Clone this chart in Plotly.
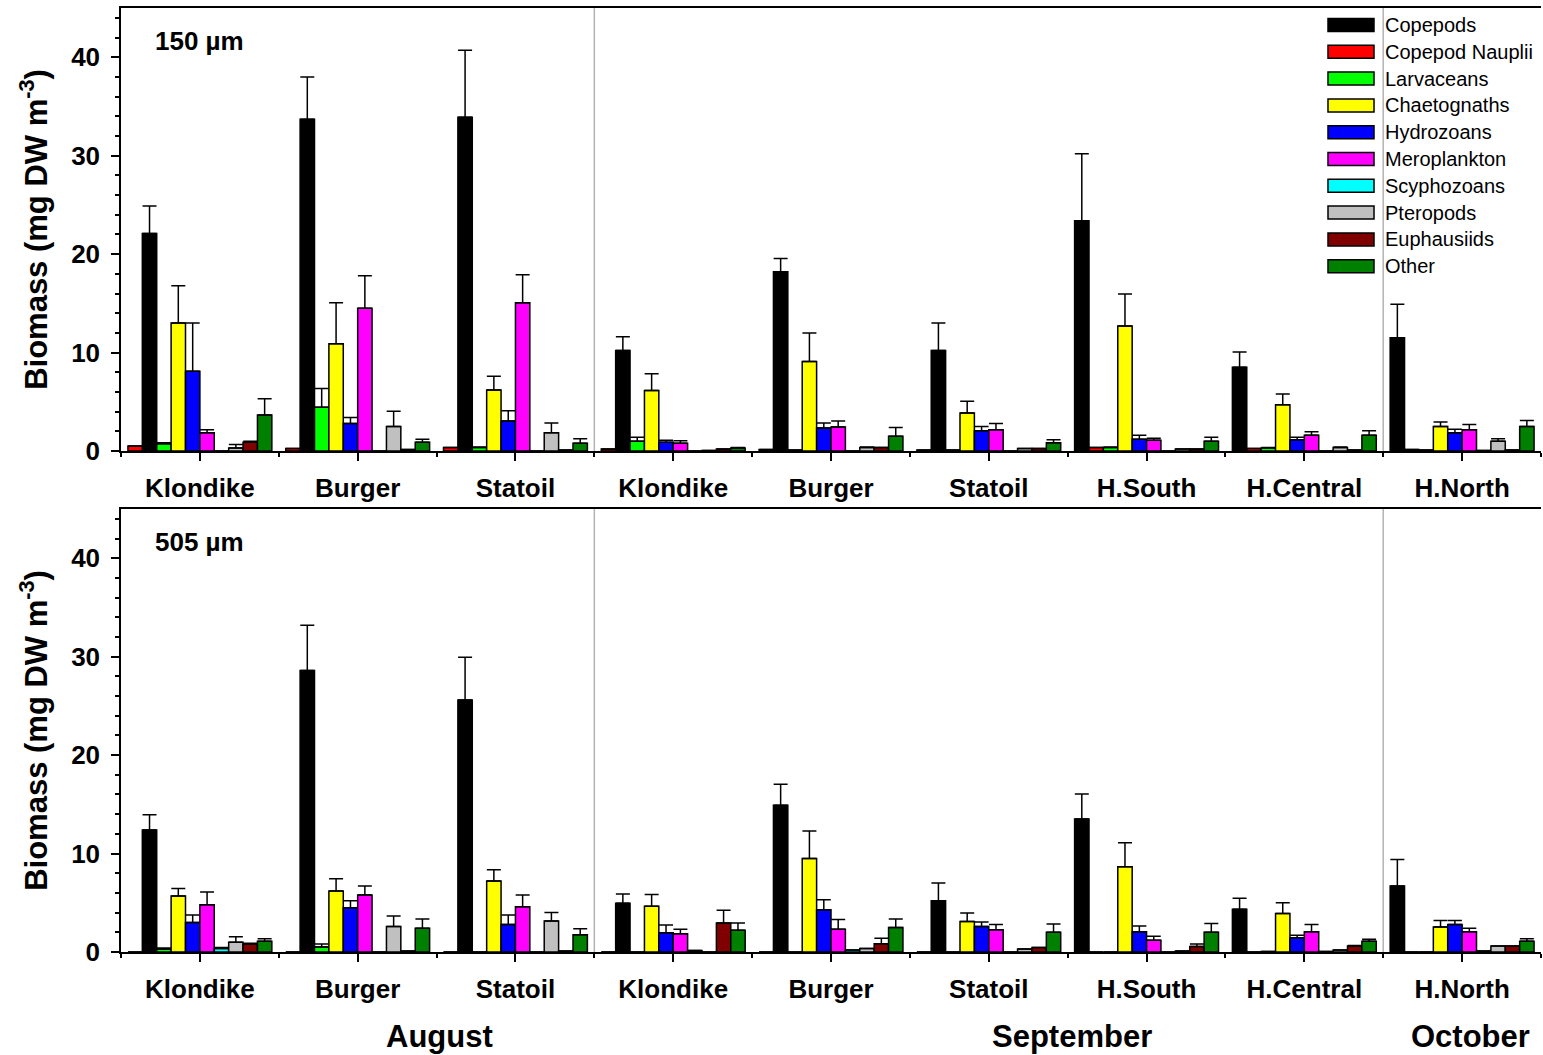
import plotly.graph_objects as go

# Sampling sites (three August cruises, five September, one October)
sites = ["Klondike", "Burger", "Statoil", "Klondike", "Burger", "Statoil",
         "H.South", "H.Central", "H.North"]
months = ["August", "September", "October"]
month_pos = [1.52, 5.53, 8.05]

taxa = ["Copepods", "Copepod Nauplii", "Larvaceans", "Chaetognaths", "Hydrozoans",
        "Meroplankton", "Scyphozoans", "Pteropods", "Euphausiids", "Other"]
colors = ["#000000", "#FF0000", "#00FF00", "#FFFF00", "#0000FF",
          "#FF00FF", "#00FFFF", "#C0C0C0", "#800000", "#008000"]

# ---- 150 µm net: mean biomass (mg DW m-3) and standard error ----
copepods_150 = [22.1, 33.7, 33.9, 10.2, 18.2, 10.2, 23.4, 8.5, 11.5]
copepods_150_se = [2.8, 4.3, 6.8, 1.4, 1.35, 2.8, 6.8, 1.55, 3.4]
nauplii_150 = [0.5, 0.25, 0.35, 0.2, 0.15, 0.1, 0.35, 0.25, 0.15]
nauplii_150_se = [0, 0, 0, 0, 0, 0, 0, 0, 0]
larvaceans_150 = [0.75, 4.45, 0.35, 1.0, 0.1, 0.1, 0.35, 0.3, 0.1]
larvaceans_150_se = [0.1, 1.9, 0.05, 0.4, 0, 0, 0.05, 0.05, 0]
chaetognaths_150 = [13.0, 10.9, 6.2, 6.15, 9.1, 3.85, 12.7, 4.7, 2.5]
chaetognaths_150_se = [3.8, 4.15, 1.4, 1.7, 2.9, 1.2, 3.25, 1.1, 0.45]
hydrozoans_150 = [8.1, 2.8, 3.05, 0.9, 2.35, 2.05, 1.2, 1.15, 1.85]
hydrozoans_150_se = [4.9, 0.6, 1.05, 0.2, 0.5, 0.45, 0.4, 0.25, 0.35]
meroplankton_150 = [1.85, 14.5, 15.05, 0.8, 2.45, 2.15, 1.1, 1.6, 2.15]
meroplankton_150_se = [0.3, 3.3, 2.85, 0.25, 0.6, 0.65, 0.2, 0.35, 0.55]
scyphozoans_150 = [0, 0, 0, 0, 0, 0, 0, 0, 0.05]
scyphozoans_150_se = [0, 0, 0, 0, 0, 0, 0, 0, 0]
pteropods_150 = [0.3, 2.5, 1.85, 0.05, 0.35, 0.25, 0.2, 0.35, 1.0]
pteropods_150_se = [0.35, 1.55, 1.0, 0, 0.05, 0, 0, 0.05, 0.25]
euphausiids_150 = [0.9, 0.15, 0.1, 0.2, 0.35, 0.25, 0.2, 0.1, 0.1]
euphausiids_150_se = [0.1, 0, 0, 0, 0, 0, 0, 0, 0]
other_150 = [3.65, 0.9, 0.8, 0.3, 1.5, 0.85, 1.0, 1.6, 2.5]
other_150_se = [1.65, 0.3, 0.45, 0.05, 0.9, 0.3, 0.4, 0.45, 0.6]

# ---- 505 µm net ----
copepods_505 = [12.4, 28.6, 25.6, 4.95, 14.9, 5.2, 13.5, 4.35, 6.7]
copepods_505_se = [1.55, 4.6, 4.35, 0.95, 2.15, 1.8, 2.55, 1.1, 2.7]
nauplii_505 = [0, 0, 0, 0, 0, 0, 0, 0, 0]
nauplii_505_se = [0, 0, 0, 0, 0, 0, 0, 0, 0]
larvaceans_505 = [0.3, 0.5, 0, 0, 0, 0, 0, 0.05, 0]
larvaceans_505_se = [0.1, 0.3, 0, 0, 0, 0, 0, 0, 0]
chaetognaths_505 = [5.7, 6.2, 7.2, 4.65, 9.5, 3.1, 8.65, 3.9, 2.55]
chaetognaths_505_se = [0.75, 1.25, 1.15, 1.2, 2.8, 0.85, 2.45, 1.1, 0.65]
hydrozoans_505 = [3.0, 4.5, 2.8, 1.95, 4.3, 2.6, 2.05, 1.45, 2.8]
hydrozoans_505_se = [0.75, 0.7, 0.95, 0.8, 1.0, 0.45, 0.6, 0.25, 0.4]
meroplankton_505 = [4.8, 5.8, 4.6, 1.85, 2.3, 2.25, 1.2, 2.05, 2.05]
meroplankton_505_se = [1.3, 0.9, 1.2, 0.45, 1.0, 0.55, 0.4, 0.75, 0.35]
scyphozoans_505 = [0.35, 0, 0, 0.15, 0.2, 0, 0, 0.05, 0.1]
scyphozoans_505_se = [0.1, 0, 0, 0, 0, 0, 0, 0, 0]
pteropods_505 = [1.0, 2.6, 3.15, 0, 0.35, 0.3, 0.1, 0.2, 0.6]
pteropods_505_se = [0.55, 1.05, 0.85, 0, 0, 0, 0, 0, 0]
euphausiids_505 = [0.8, 0.1, 0.1, 2.95, 0.85, 0.45, 0.55, 0.6, 0.6]
euphausiids_505_se = [0.1, 0, 0, 1.3, 0.55, 0, 0.25, 0.05, 0]
other_505 = [1.1, 2.4, 1.75, 2.2, 2.5, 2.0, 2.0, 1.1, 1.1]
other_505_se = [0.25, 0.95, 0.6, 0.75, 0.85, 0.85, 0.9, 0.2, 0.25]

panel_150 = [(copepods_150, copepods_150_se), (nauplii_150, nauplii_150_se),
             (larvaceans_150, larvaceans_150_se), (chaetognaths_150, chaetognaths_150_se),
             (hydrozoans_150, hydrozoans_150_se), (meroplankton_150, meroplankton_150_se),
             (scyphozoans_150, scyphozoans_150_se), (pteropods_150, pteropods_150_se),
             (euphausiids_150, euphausiids_150_se), (other_150, other_150_se)]
panel_505 = [(copepods_505, copepods_505_se), (nauplii_505, nauplii_505_se),
             (larvaceans_505, larvaceans_505_se), (chaetognaths_505, chaetognaths_505_se),
             (hydrozoans_505, hydrozoans_505_se), (meroplankton_505, meroplankton_505_se),
             (scyphozoans_505, scyphozoans_505_se), (pteropods_505, pteropods_505_se),
             (euphausiids_505, euphausiids_505_se), (other_505, other_505_se)]

# Bar slot inside each site cluster; copepods and nauplii trade places
# in the last three clusters.
n_sites = len(sites)
slot_of = {name: [i] * n_sites for i, name in enumerate(taxa)}
slot_of["Copepods"] = [1] * 6 + [0] * 3
slot_of["Copepod Nauplii"] = [0] * 6 + [1] * 3

BAR_W = 0.0912
START = -BAR_W * 5

FONT = "Liberation Sans, Arial, sans-serif"
xs = list(range(n_sites))

fig = go.Figure()
for panel, (xa, ya) in ((panel_150, ("x", "y")), (panel_505, ("x2", "y2"))):
    for name, color, (vals, se) in zip(taxa, colors, panel):
        fig.add_trace(go.Bar(
            x=xs, y=vals, name=name, xaxis=xa, yaxis=ya,
            width=[BAR_W] * n_sites,
            offset=[START + BAR_W * s for s in slot_of[name]],
            marker=dict(color=color, line=dict(color="black", width=1.5)),
            error_y=dict(type="data", symmetric=False, array=se,
                         arrayminus=[0] * n_sites, color="black",
                         thickness=1.5, width=7),
            showlegend=False,
        ))

xaxis_common = dict(
    range=[-0.5, n_sites - 0.5], tickmode="array", tickvals=xs,
    ticktext=[f"<b>{s}</b>" for s in sites],
    tickfont=dict(family=FONT, size=26, color="black"),
    showline=True, linecolor="black", linewidth=1.5, mirror=True,
    ticks="outside", ticklen=8, tickwidth=1.5, tickcolor="black",
    minor=dict(tick0=0.5, dtick=1, ticks="outside", ticklen=4,
               tickwidth=1.5, tickcolor="black"),
    showgrid=False, zeroline=False, ticklabelstandoff=5,
)
yaxis_common = dict(
    range=[0, 45], tickmode="linear", tick0=0, dtick=10,
    tickfont=dict(family=FONT, size=26, color="black", weight="bold"),
    showline=True, linecolor="black", linewidth=1.5,
    ticks="outside", ticklen=8, tickwidth=1.5, tickcolor="black",
    minor=dict(dtick=2, ticks="outside", ticklen=4, tickwidth=1.5, tickcolor="black"),
    showgrid=False, zeroline=False, ticklabelstandoff=6,
    title=dict(text="<b>Biomass (mg DW m<sup>-3</sup>)</b>",
               font=dict(family=FONT, size=31, color="black"), standoff=14),
)

fig.update_layout(
    width=1543, height=1055,
    margin=dict(l=121, r=2, t=8, b=103),
    paper_bgcolor="white", plot_bgcolor="white",
    barmode="overlay",
    xaxis=dict(anchor="y", **xaxis_common),
    yaxis=dict(anchor="x", domain=[0.5307, 1.0], **yaxis_common),
    xaxis2=dict(anchor="y2", **xaxis_common),
    yaxis2=dict(anchor="x2", domain=[0.0, 0.4693], **yaxis_common),
    font=dict(family=FONT, color="black"),
)

# Vertical separators between months
shapes = []
for xa, ya in (("x", "y domain"), ("x2", "y2 domain")):
    for xb in (2.5, 7.5):
        shapes.append(dict(type="line", xref=xa, yref=ya, x0=xb, x1=xb, y0=0, y1=1,
                           line=dict(color="#b4b4b4", width=1.5), layer="below"))

# Legend drawn as wide swatches in the upper panel
annotations = []
plot_h = 944.0
for i, (name, color) in enumerate(zip(taxa, colors)):
    yc = 25 + 26.8 * i
    shapes.append(dict(type="rect", xref="paper", yref="paper",
                       x0=(1328 - 121) / 1420, x1=(1374 - 121) / 1420,
                       y0=(952 - (yc + 6.5)) / plot_h, y1=(952 - (yc - 6.5)) / plot_h,
                       fillcolor=color, line=dict(color="black", width=1.5)))
    annotations.append(dict(text=name, xref="paper", yref="paper",
                            x=(1383 - 121) / 1420, y=(952 - yc) / plot_h,
                            xanchor="left", yanchor="middle", showarrow=False,
                            font=dict(family=FONT, size=20, color="black")))

# Mesh-size labels
for label, yc in (("150 µm", 41), ("505 µm", 542)):
    annotations.append(dict(text=f"<b>{label}</b>", xref="paper", yref="paper",
                            x=(153 - 121) / 1420, y=(952 - yc) / plot_h,
                            xanchor="left", yanchor="middle", showarrow=False,
                            font=dict(family=FONT, size=26, color="black")))

# Month labels under the lower panel
for m, xp in zip(months, month_pos):
    annotations.append(dict(text=f"<b>{m}</b>", xref="x2", yref="paper",
                            x=xp, y=(952 - 1036) / plot_h,
                            xanchor="center", yanchor="middle", showarrow=False,
                            font=dict(family=FONT, size=31, color="black")))

fig.update_layout(shapes=shapes, annotations=annotations)
fig.write_html("out.html")
